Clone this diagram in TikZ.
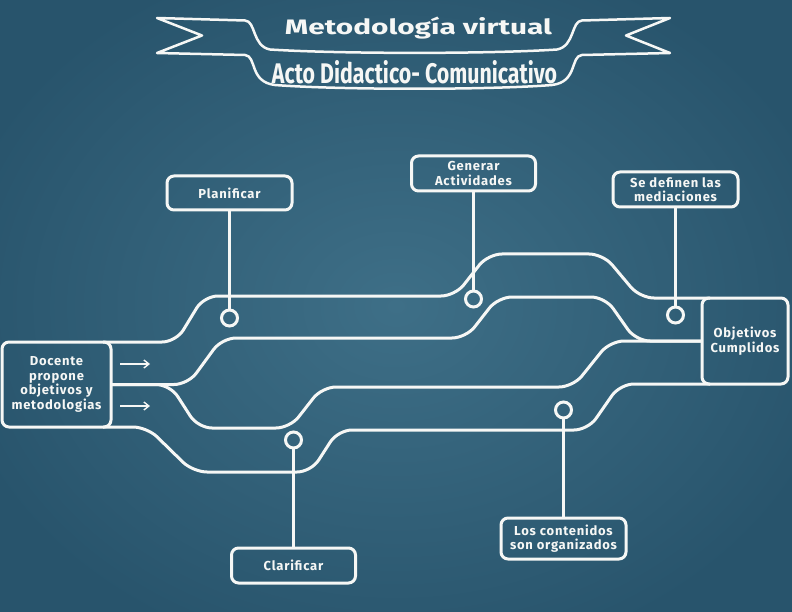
\documentclass[tikz,border=0pt]{standalone}
\usepackage{fontspec}
\setmainfont{Fira Sans}
\usetikzlibrary{calc,arrows.meta}
\definecolor{boardlight}{HTML}{3E6F87}
\definecolor{boarddark}{HTML}{28546C}
\definecolor{chalk}{HTML}{F6F7F5}
\newcommand\bxfont{\fontsize{13}{14.5}\selectfont\bfseries\addfontfeature{LetterSpace=6}}
\begin{document}
\begin{tikzpicture}[x=1pt,y=-1pt,
  track/.style={draw=chalk, line width=3pt, rounded corners=14pt},
  box/.style={draw=chalk, line width=3pt, rounded corners=7pt, inner sep=0pt, outer sep=0pt, align=center, text=chalk, font=\bxfont},
  dot/.style={draw=chalk, line width=3pt, circle, minimum size=16pt, inner sep=0pt, outer sep=0pt},
  stem/.style={draw=chalk, line width=3pt},
  hint/.style={draw=chalk, line width=1.4pt, -{Straight Barb[length=5pt,width=8pt]}},
  banner/.style={draw=chalk, line width=2.5pt, line join=round},
  ttl/.style={text=chalk, anchor=base, inner sep=0pt, outer sep=0pt}
]
\useasboundingbox (0,0) rectangle (792,612);
\shade[inner color=boardlight, outer color=boarddark] (-60,-60) rectangle (852,672);

% banner
\draw[banner] (157,18) -- (245,20.5) .. controls (256,21) and (252,46) .. (270,49.5)
  .. controls (340,54) and (490,54) .. (557,49.5)
  .. controls (575,46) and (571,21) .. (582,20.5) -- (670,18) -- (626,35.5) -- (670,53)
  -- (582,55) .. controls (570,56) and (578,82) .. (552,85)
  .. controls (490,90) and (340,90) .. (275,85)
  .. controls (249,82) and (257,56) .. (245,55) -- (157,53) -- (202,35.5) -- cycle;
\node[ttl] (t1) at (418.5,35) {\resizebox{267pt}{17.5pt}{\bfseries Metodología virtual}};
\node[ttl] (t2) at (414.5,83.3) {\resizebox{285pt}{23pt}{\bfseries Acto Didactico- Comunicativo}};

% boxes
\node[box, minimum width=109pt, minimum height=85pt] (doc) at (56.5,384.5) {Docente\\propone\\objetivos y\\metodologias};
\node[box, minimum width=86pt, minimum height=86pt] (obj) at (745,341) {Objetivos\\Cumplidos};
\node[box, minimum width=125pt, minimum height=34pt] (plan) at (229.5,193) {Planificar};
\node[box, minimum width=124pt, minimum height=35pt] (gen) at (473.5,173.5) {Generar\\Actividades};
\node[box, minimum width=125pt, minimum height=35pt] (med) at (675.5,189.5) {Se definen las\\mediaciones};
\node[box, minimum width=124pt, minimum height=35pt] (cla) at (293.5,565.5) {Clarificar};
\node[box, minimum width=125pt, minimum height=41pt] (con) at (563.5,538.5) {Los contenidos\\son organizados};

% tracks
\draw[track] ($(doc.north east)+(-8,0)$) -- (176,342) -- (204,296) -- (455,296) -- (488,254)
  -- (603,254) -- (640,298) -- ($(obj.north west)+(8,0)$);
\draw[track] (doc.east) -- (188,384.5) -- (222,338) -- (466,338) -- (498,297)
  -- (605,297) -- (636,341) -- (obj.west);
\draw[track] (doc.east) -- (170,384.5) -- (198,428) -- (290,428) -- (322,387)
  -- (573,387) -- (610,341) -- (obj.west);
\draw[track] ($(doc.south east)+(-8,0)$) -- (147,427) -- (193,472) -- (311,472) -- (338,430)
  -- (588,430) -- (620,384) -- ($(obj.south west)+(8,0)$);

% circles and stems
\node[dot] (cplan) at (229.5,318) {};
\node[dot] (cgen) at (473.5,299) {};
\node[dot] (cmed) at (675.5,315) {};
\node[dot] (ccla) at (293.5,440) {};
\node[dot] (ccon) at (563.5,410) {};
\draw[stem] (plan) -- (cplan);
\draw[stem] (gen) -- (cgen);
\draw[stem] (med) -- (cmed);
\draw[stem] (cla) -- (ccla);
\draw[stem] (con) -- (ccon);

% arrows
\coordinate (a1s) at (120,364);
\coordinate (a1e) at (150,364);
\coordinate (a2s) at (120,406);
\coordinate (a2e) at (150,406);
\draw[hint] (a1s) -- (a1e);
\draw[hint] (a2s) -- (a2e);
\end{tikzpicture}
\end{document}
